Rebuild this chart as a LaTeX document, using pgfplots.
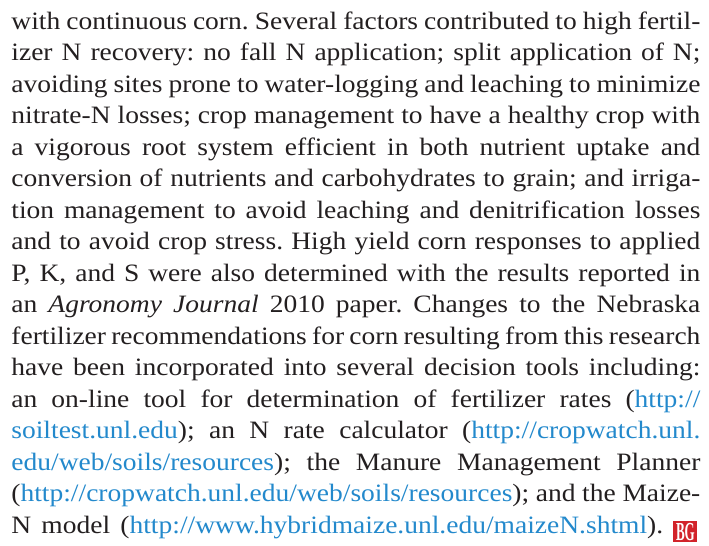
\documentclass[border=0pt]{standalone}
\usepackage{pgfplots}
\pgfplotsset{compat=1.18}
\usepackage{fontspec}
\setmainfont[FakeStretch=1.1]{Liberation Serif}
\newfontfamily\bgfont[FakeStretch=0.5]{Liberation Serif}

\definecolor{bodytext}{HTML}{231F20}
\definecolor{linkblue}{HTML}{2389CC}
\definecolor{bgred}{HTML}{D2232A}

\newcommand\lk[1]{\textcolor{linkblue}{#1}}
\newcommand\bglogo{\textcolor{bgred}{\rule[-4.6pt]{12pt}{10.6pt}}\llap{\makebox[12pt]{\raisebox{-3.5pt}{\color{white}\bgfont\bfseries\fontsize{13}{13}\selectfont BG}}}\hspace{1.5pt}}
% one justified line of the column, placed at its baseline (1 axis unit = 1 px)
\newcommand\tl[2]{\node[anchor=base west,inner sep=0pt,text=bodytext]
  at (axis cs:11,{516.7-31.5*(#1-1)}) {\fontsize{12.5}{14}\selectfont\frenchspacing\hbox to 344.5pt{#2}};}

\begin{document}
\begin{tikzpicture}
\begin{axis}[
    width=354.5pt, height=273pt, scale only axis,
    xmin=0, xmax=709, ymin=0, ymax=546,
    hide axis, clip=false,
]
\path (axis cs:0,0) rectangle (axis cs:709,546);
\tl{1}{with continuous corn. Several factors contributed to high fertil-}
\tl{2}{izer N recovery: no fall N application; split application of N;}
\tl{3}{avoiding sites prone to water-logging and leaching to minimize}
\tl{4}{nitrate-N losses; crop management to have a healthy crop with}
\tl{5}{a vigorous root system efficient in both nutrient uptake and}
\tl{6}{conversion of nutrients and carbohydrates to grain; and irriga-}
\tl{7}{tion management to avoid leaching and denitrification losses}
\tl{8}{and to avoid crop stress. High yield corn responses to applied}
\tl{9}{P, K, and S were also determined with the results reported in}
\tl{10}{an \textit{Agronomy Journal} 2010 paper. Changes to the Nebraska}
\tl{11}{fertilizer recommendations for corn resulting from this research}
\tl{12}{have been incorporated into several decision tools including:}
\tl{13}{an on-line tool for determination of fertilizer rates (\lk{http://}}
\tl{14}{\lk{soiltest.unl.edu}); an N rate calculator (\lk{http://cropwatch.unl.}}
\tl{15}{\lk{edu/web/soils/resources}); the Manure Management Planner}
\tl{16}{(\lk{http://cropwatch.unl.edu/web/soils/resources}); and the Maize-}
\tl{17}{N model (\lk{http://www.hybridmaize.unl.edu/maizeN.shtml}). \bglogo}
\end{axis}
\end{tikzpicture}
\end{document}
